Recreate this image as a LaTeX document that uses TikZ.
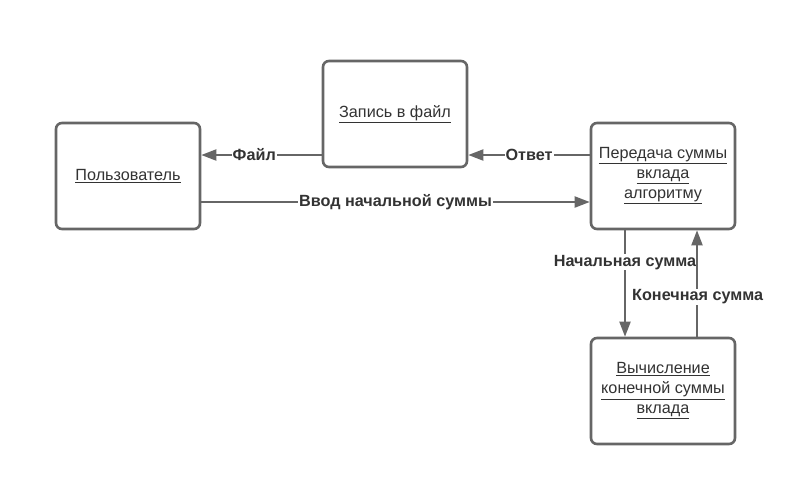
\documentclass[tikz,border=0pt]{standalone}
\usepackage{fontspec}
\setmainfont{Liberation Sans}
\usetikzlibrary{arrows.meta}
\definecolor{edge}{HTML}{666666}
\definecolor{txt}{HTML}{333333}
\newcommand{\ulx}[1]{\underline{#1}}
\begin{document}
\begin{tikzpicture}[x=1pt,y=-1pt,
  procbox/.style={draw=edge,line width=2.6pt,rounded corners=6pt,fill=white,
    minimum width=144pt,minimum height=106pt,align=center,text=txt,
    font=\fontsize{16.2}{20}\selectfont,inner sep=0pt},
  conn/.style={draw=edge,line width=2pt,-{Triangle[length=15pt,width=11pt]}},
  lbl/.style={fill=white,text=txt,font=\bfseries\fontsize{16.2}{18}\selectfont,inner sep=1pt}]
\useasboundingbox (0,0) rectangle (786,499);
\node[procbox] (user) at (128,176) {\ulx{Пользователь}};
\node[procbox] (file) at (395,114) {\ulx{Запись в файл}};
\node[procbox] (pass) at (663,176) {\ulx{Передача суммы}\\\ulx{вклада}\\\ulx{алгоритму}};
\node[procbox] (calc) at (663,391) {\ulx{Вычисление}\\\ulx{конечной суммы}\\\ulx{вклада}};
\coordinate (fileL) at (file.west |- 0,155);
\coordinate (userR1) at (user.east |- 0,155);
\coordinate (passL1) at (pass.west |- 0,155);
\coordinate (fileR) at (file.east |- 0,155);
\coordinate (userR2) at (user.east |- 0,202);
\coordinate (passL2) at (pass.west |- 0,202);
\coordinate (passB1) at (625,0 |- pass.south);
\coordinate (calcT1) at (625,0 |- calc.north);
\coordinate (passB2) at (697,0 |- pass.south);
\coordinate (calcT2) at (697,0 |- calc.north);
\draw[conn] (fileL) -- node[lbl,pos=0.56] {Файл} (userR1);
\draw[conn] (passL1) -- node[lbl,pos=0.5] {Ответ} (fileR);
\draw[conn] (userR2) -- node[lbl,pos=0.5] {Ввод начальной суммы} (passL2);
\draw[conn] (passB1) -- node[lbl,pos=0.3] {Начальная сумма} (calcT1);
\draw[conn] (calcT2) -- (passB2);
\node[lbl,anchor=west] (endlbl) at (631,297) {Конечная сумма};
\end{tikzpicture}
\end{document}
